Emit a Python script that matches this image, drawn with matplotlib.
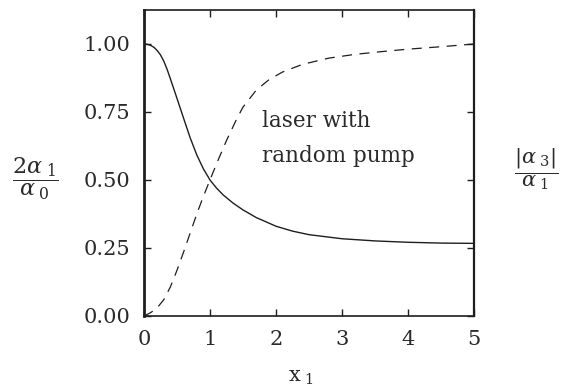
import matplotlib.pyplot as plt

# solid curve: 2*alpha1/alpha0 vs x1
x_solid = [0, 0.05, 0.1, 0.15, 0.2, 0.25, 0.3, 0.35, 0.4, 0.5, 0.6, 0.7, 0.8,
           0.9, 1.0, 1.1, 1.2, 1.35, 1.5, 1.7, 2.0, 2.25, 2.5, 3.0, 3.5, 4.0,
           4.5, 5.0]
y_solid = [1.0, 0.999, 0.995, 0.988, 0.976, 0.96, 0.937, 0.907, 0.872, 0.80,
           0.727, 0.655, 0.592, 0.541, 0.50, 0.47, 0.445, 0.415, 0.39, 0.362,
           0.33, 0.312, 0.299, 0.284, 0.276, 0.271, 0.268, 0.267]

# dashed curve: |alpha3|/alpha1 vs x1
x_dash = [0, 0.1, 0.2, 0.3, 0.4, 0.5, 0.6, 0.7, 0.8, 0.9, 1.0, 1.1, 1.25, 1.4,
          1.5, 1.7, 1.9, 2.1, 2.4, 2.8, 3.2, 3.6, 4.0, 4.5, 5.0]
y_dash = [0.0, 0.012, 0.03, 0.06, 0.107, 0.168, 0.235, 0.305, 0.375, 0.44,
          0.50, 0.56, 0.645, 0.722, 0.768, 0.83, 0.87, 0.897, 0.925, 0.948,
          0.962, 0.972, 0.981, 0.99, 1.0]

x_ticks = [0, 1, 2, 3, 4, 5]
y_ticks = [0.0, 0.25, 0.5, 0.75, 1.0]

plt.rcParams['font.family'] = 'DejaVu Serif'
plt.rcParams['mathtext.fontset'] = 'dejavuserif'
ink = '#1e1e1e'
txt = '#2a2a2a'

fig = plt.figure(figsize=(5.62, 3.89), dpi=100)
ax = fig.add_axes([0.2562, 0.1877, 0.5872, 0.7866])

ax.plot(x_solid, y_solid, color=ink, lw=1.0)
ax.plot(x_dash, y_dash, color=ink, lw=0.9, dashes=(8, 6))

ax.set_xlim(0, 5)
ax.set_ylim(0, 1.125)
ax.set_xticks(x_ticks)
ax.set_yticks(y_ticks)
ax.set_yticklabels(['%.2f' % v for v in y_ticks])
ax.tick_params(direction='in', length=5, width=1, top=True, right=True,
               labelsize=15, colors=ink, labelcolor=txt)
ax.tick_params(axis='y', pad=10)
ax.tick_params(axis='x', pad=10)
for side in ax.spines:
    ax.spines[side].set_color(ink)
    ax.spines[side].set_linewidth(1.2)
ax.spines['left'].set_linewidth(2)
ax.spines['right'].set_linewidth(1.6)

ax.text(1.79, 0.717, 'laser with', fontsize=15.5, color=txt, va='center')
ax.text(1.79, 0.588, 'random pump', fontsize=15.5, color=txt, va='center')

fig.text(0.063, 0.54, r'$\dfrac{2\alpha_{\ 1}}{\alpha_{\ 0}}$', fontsize=16,
         color=txt, ha='center', va='center')
fig.text(0.954, 0.565, r'$\dfrac{|\alpha_{\ 3}|}{\alpha_{\ 1}}$', fontsize=15,
         color=txt, ha='center', va='center')
fig.text(0.535, 0.03, r'$\mathregular{x}_{\ 1}$', fontsize=15, color=txt,
         ha='center', va='center')

fig.savefig('out.png', dpi=100)
